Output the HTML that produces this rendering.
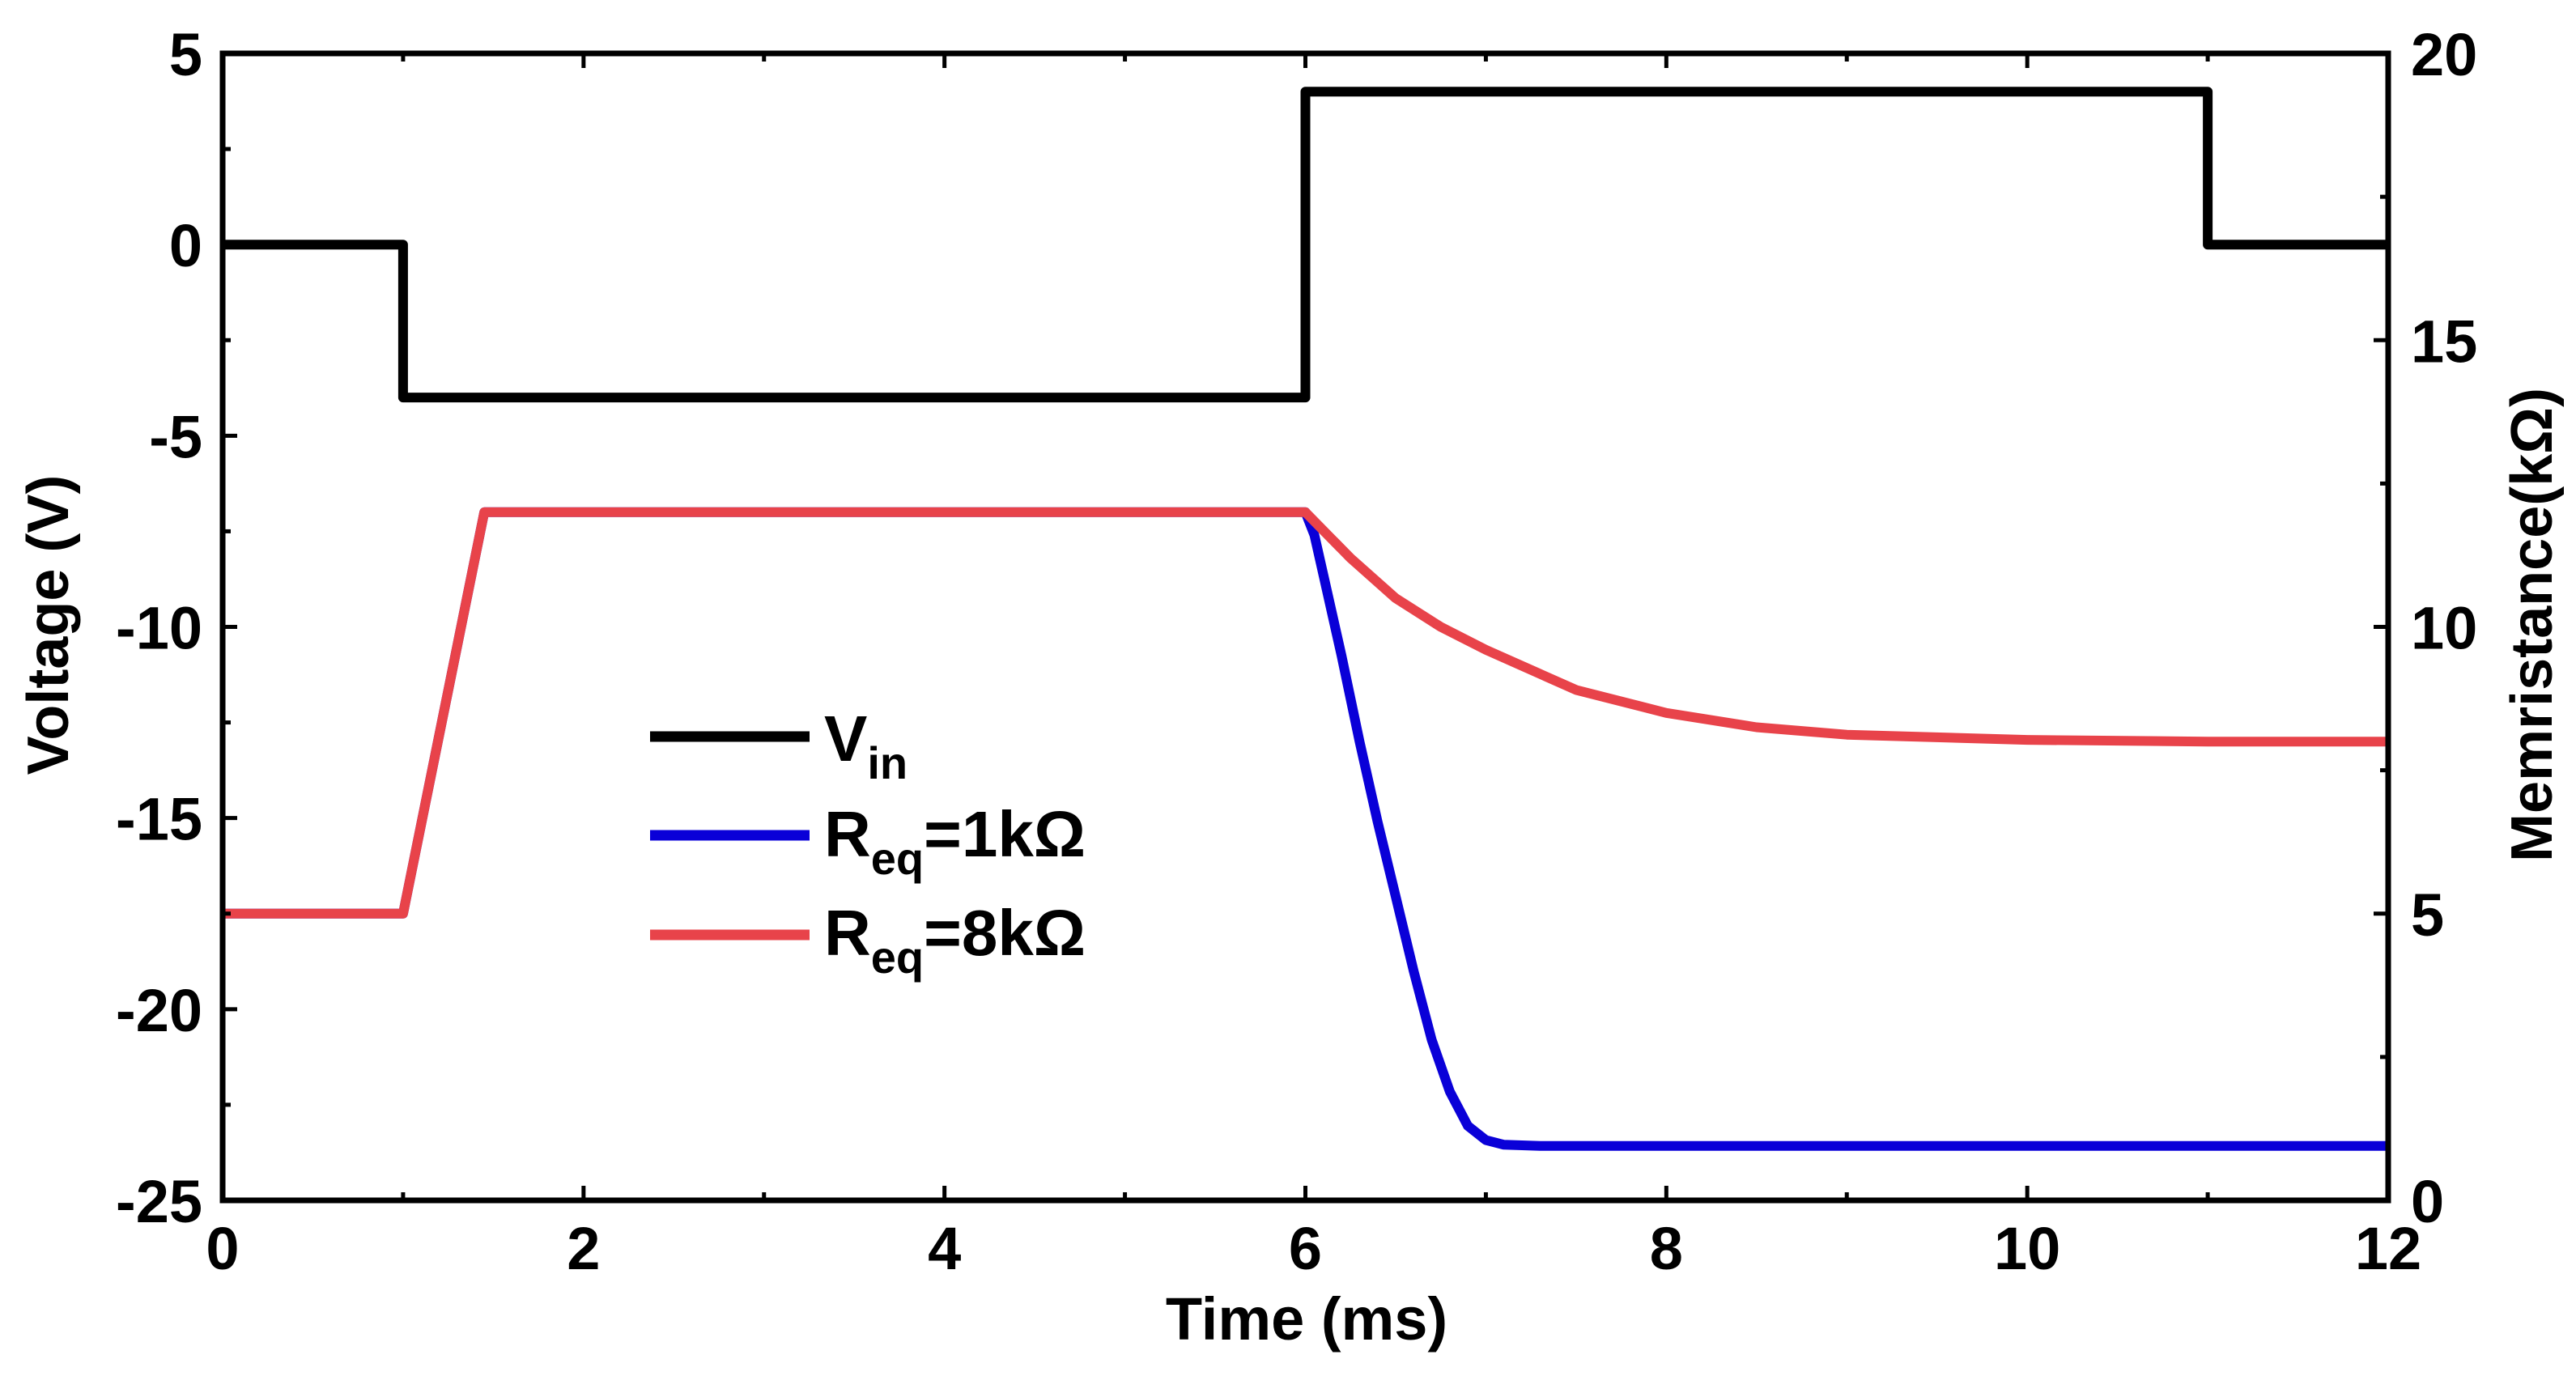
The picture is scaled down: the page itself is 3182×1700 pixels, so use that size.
<!DOCTYPE html>
<html><head><meta charset="utf-8"><style>
html,body{margin:0;padding:0;background:#fff;}
svg{display:block;font-family:"Liberation Sans",Arial,sans-serif;font-weight:bold;}
</style></head><body>
<svg id="chart" width="3182" height="1700" viewBox="0 0 3182 1700" xmlns="http://www.w3.org/2000/svg">
<g id="plot"></g>
<text x="1614" y="1655" font-size="74" text-anchor="middle">Time (ms)</text>
<text transform="translate(84,772) rotate(-90)" font-size="72" text-anchor="middle">Voltage (V)</text>
<text transform="translate(3152,772) rotate(-90)" font-size="72" text-anchor="middle">Memristance(kΩ)</text>
<g>
<line x1="803" x2="1000" y1="910" y2="910" stroke="#000" stroke-width="13"/>
<text x="1018" y="940" font-size="80">V<tspan font-size="56" dy="22">in</tspan></text>
<line x1="803" x2="1000" y1="1032" y2="1032" stroke="#0a00d8" stroke-width="13"/>
<text x="1018" y="1058" font-size="80">R<tspan font-size="56" dy="22">eq</tspan><tspan dy="-22">=1kΩ</tspan></text>
<line x1="803" x2="1000" y1="1155" y2="1155" stroke="#e8434a" stroke-width="13"/>
<text x="1018" y="1180" font-size="80">R<tspan font-size="56" dy="22">eq</tspan><tspan dy="-22">=8kΩ</tspan></text>
</g>
</svg>
<script>
const vinTimes = [0, 1, 1, 6, 6, 11, 11, 12];
const vinValues = [0, 0, -4, -4, 4, 4, 0, 0];
const blueTimes = [0, 1, 1.45, 6, 6.05, 6.1, 6.2, 6.3, 6.4, 6.5, 6.6, 6.7, 6.8, 6.9, 7.0, 7.1, 7.3, 12];
const blueValues = [5, 5, 12, 12, 11.6, 10.9, 9.5, 8.0, 6.6, 5.3, 4.0, 2.8, 1.9, 1.3, 1.05, 0.97, 0.95, 0.95];
const redTimes = [0, 1, 1.45, 6, 6.25, 6.5, 6.75, 7, 7.5, 8, 8.5, 9, 10, 11, 12];
const redValues = [5, 5, 12, 12, 11.2, 10.5, 10.0, 9.6, 8.9, 8.5, 8.25, 8.12, 8.03, 8.0, 8.0];
const xTicks = [0, 2, 4, 6, 8, 10, 12];
const yLeftTicks = [5, 0, -5, -10, -15, -20, -25];
const yRightTicks = [20, 15, 10, 5, 0];

const X0 = 275, X1 = 2950, Y0 = 66, Y1 = 1483;
const xs = t => X0 + (t - 0) / 12 * (X1 - X0);
const yL = v => Y0 + (5 - v) / 30 * (Y1 - Y0);
const yR = v => Y0 + (20 - v) / 20 * (Y1 - Y0);
const NS = "http://www.w3.org/2000/svg";
const g = document.getElementById('plot');
function mk(tag, attrs) { const e = document.createElementNS(NS, tag); for (const k in attrs) e.setAttribute(k, attrs[k]); g.appendChild(e); return e; }

function series(times, vals, yf, color, name) {
  const d = times.map((t, i) => (i ? 'L' : 'M') + xs(t).toFixed(1) + ' ' + yf(vals[i]).toFixed(1)).join(' ');
  const p = mk('path', { d: d, fill: 'none', stroke: color, 'stroke-width': 12, 'stroke-linejoin': 'round' });
  
  
}
series(blueTimes, blueValues, yR, '#0a00d8', 'series-req-1k');
series(redTimes, redValues, yR, '#e8434a', 'series-req-8k');
series(vinTimes, vinValues, yL, '#000', 'series-vin');

const fr = mk('rect', { x: X0, y: Y0, width: X1 - X0, height: Y1 - Y0, fill: 'none', stroke: '#000', 'stroke-width': 7 });



for (let t = 0; t <= 12; t++) {
  const len = t % 2 === 0 ? 18 : 10;
  mk('line', { x1: xs(t), x2: xs(t), y1: Y1, y2: Y1 - len, stroke: '#000', 'stroke-width': 5 });
  mk('line', { x1: xs(t), x2: xs(t), y1: Y0, y2: Y0 + len, stroke: '#000', 'stroke-width': 5 });
}
xTicks.forEach(t => {
  const e = mk('text', { x: xs(t), y: 1568, 'font-size': 74, 'text-anchor': 'middle' });
  e.textContent = t;
  
  
});
for (let v = -25; v <= 5; v += 2.5) {
  const len = (v % 5 === 0) ? 18 : 10;
  mk('line', { x1: X0, x2: X0 + len, y1: yL(v), y2: yL(v), stroke: '#000', 'stroke-width': 5 });
}
yLeftTicks.forEach(v => {
  const e = mk('text', { x: 250, y: yL(v) + 27, 'font-size': 74, 'text-anchor': 'end' });
  e.textContent = v;
  
  
});
for (let v = 0; v <= 20; v += 2.5) {
  const len = (v % 5 === 0) ? 18 : 10;
  mk('line', { x1: X1, x2: X1 - len, y1: yR(v), y2: yR(v), stroke: '#000', 'stroke-width': 5 });
}
yRightTicks.forEach(v => {
  const e = mk('text', { x: 2978, y: yR(v) + 27, 'font-size': 74, 'text-anchor': 'start' });
  e.textContent = v;
  
  
});
</script>
</body></html>
